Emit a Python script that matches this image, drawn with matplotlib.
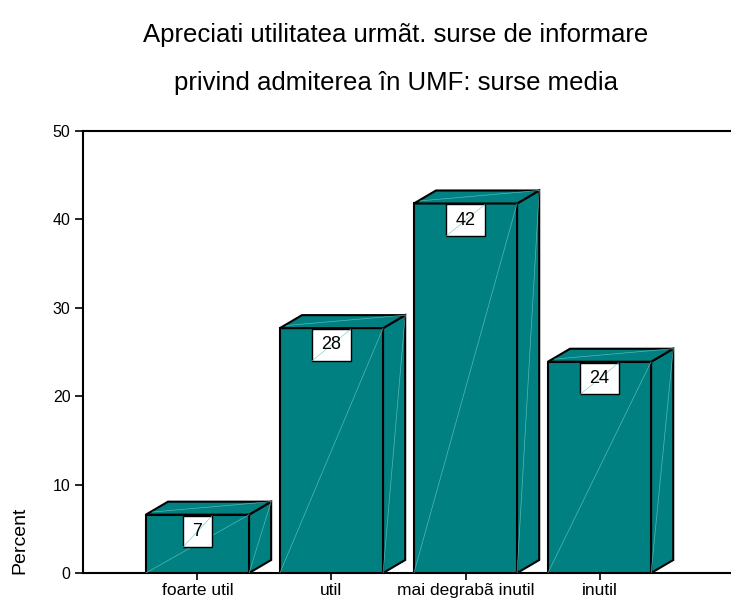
import matplotlib
matplotlib.use("Agg")
import matplotlib.pyplot as plt
from matplotlib.patches import Polygon, Rectangle

categories = ["foarte util", "util", "mai degrabã inutil", "inutil"]
percent = [6.6, 27.7, 41.8, 23.9]
yticks = [0, 10, 20, 30, 40, 50]

TEAL = "#008080"
GLINT = "#6cc6c6"
BAR_W = 0.77
DX, DY = 0.165, 1.47      # depth offset of the 3d extrusion (data units)

plt.rcParams["font.family"] = ["Liberation Sans", "DejaVu Sans"]

fig = plt.figure(figsize=(7.31, 6.01), dpi=100)
ax = fig.add_axes([83 / 731, 28 / 601, 1 - 83 / 731, (573 - 131) / 601])

for i, v in enumerate(percent):
    x0, x1 = i - BAR_W / 2, i + BAR_W / 2
    front = Rectangle((x0, 0), BAR_W, v, facecolor=TEAL, edgecolor="black", lw=1.5, zorder=3)
    side = Polygon([(x1, 0), (x1 + DX, DY), (x1 + DX, v + DY), (x1, v)],
                   closed=True, facecolor=TEAL, edgecolor="black", lw=1.5, zorder=3)
    top = Polygon([(x0, v), (x0 + DX, v + DY), (x1 + DX, v + DY), (x1, v)],
                  closed=True, facecolor=TEAL, edgecolor="black", lw=1.5, zorder=3)
    for p in (front, side, top):
        ax.add_patch(p)
    # faint highlight diagonals on each face
    ax.plot([x0, x1], [0, v], color=GLINT, lw=0.5, alpha=0.8, zorder=4)
    ax.plot([x1, x1 + DX], [0, v + DY], color=GLINT, lw=0.5, alpha=0.8, zorder=4)
    ax.plot([x0 + 0.05, x1 + DX], [v + 0.3, v + DY], color=GLINT, lw=0.5, alpha=0.8, zorder=4)

    # value box hanging from the top edge
    label = f"{v:.0f}"
    bw = 0.22 if len(label) == 1 else 0.29
    bh = 3.6
    ax.add_patch(Rectangle((i - bw / 2, v - bh - 0.1), bw, bh, facecolor="white",
                           edgecolor="black", lw=1.0, zorder=5))
    ax.plot([i - bw / 2, i + bw / 2], [v - bh - 0.1, v - 0.1], color=GLINT, lw=0.4, zorder=6)
    ax.text(i, v - bh / 2 - 0.1, label, ha="center", va="center", fontsize=13, zorder=7)

ax.set_xlim(-0.854, 3.981)
ax.set_ylim(0, 50)
ax.set_yticks(yticks)
ax.set_xticks(range(len(categories)))
ax.set_xticklabels(categories, fontsize=12.5)
ax.tick_params(axis="y", labelsize=11.5, length=6, width=1.2, pad=3)
ax.tick_params(axis="x", length=5, width=1.2, pad=2)
ax.spines["right"].set_visible(False)
for s in ("left", "top", "bottom"):
    ax.spines[s].set_linewidth(1.5)
ax.set_ylabel("Percent", fontsize=14)
ax.yaxis.set_label_coords(-0.085, 0.075)

title_font = ["Liberation Sans Narrow", "Liberation Sans", "DejaVu Sans"]
fig.text(396 / 731, 1 - 35 / 601, "Apreciati utilitatea urmãt. surse de informare",
         ha="center", va="center", fontsize=18.5, family=title_font)
fig.text(396 / 731, 1 - 83 / 601, "privind admiterea în UMF: surse media",
         ha="center", va="center", fontsize=18.5, family=title_font)

fig.savefig("out.png", dpi=100)
